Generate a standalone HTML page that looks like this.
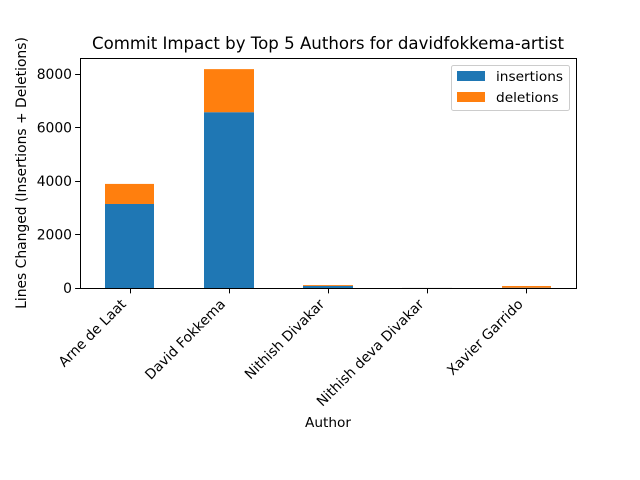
<!DOCTYPE html>
<html>
<head>
<meta charset="utf-8">
<style>
html,body{margin:0;padding:0;background:#fff;}
svg{display:block;}
text{font-family:"DejaVu Sans","Liberation Sans",sans-serif;fill:#000;}
</style>
</head>
<body>
<svg id="chart" width="640" height="480" viewBox="0 0 640 480" xmlns="http://www.w3.org/2000/svg">
  <rect x="0" y="0" width="640" height="480" fill="#fff"/>
  <g id="bars"></g>
  <g id="ticks"></g>
  <rect x="80.5" y="58.5" width="496" height="230" fill="none" stroke="#000" stroke-width="1"/>
  <text x="328" y="49" font-size="16.67" text-anchor="middle" textLength="472" lengthAdjust="spacingAndGlyphs">Commit Impact by Top 5 Authors for davidfokkema-artist</text>
  <text x="328" y="427" font-size="13.7" text-anchor="middle">Author</text>
  <text transform="translate(26 173) rotate(-90)" font-size="13.89" text-anchor="middle">Lines Changed (Insertions + Deletions)</text>
  <g>
    <rect x="451.5" y="65.5" width="118" height="45" rx="2" fill="#fff" fill-opacity="0.8" stroke="#ccc" stroke-width="1"/>
    <rect x="457" y="71" width="28" height="10" fill="#1f77b4"/>
    <text x="496" y="81" font-size="13.7">insertions</text>
    <rect x="457" y="92" width="28" height="10" fill="#ff7f0e"/>
    <text x="496" y="102" font-size="13.7">deletions</text>
  </g>
</svg>
<script>
const categories = ["Arne de Laat", "David Fokkema", "Nithish Divakar", "Nithish deva Divakar", "Xavier Garrido"];
const insertions = [3140, 6570, 80, 2, 10];
const deletions = [750, 1610, 32, 1, 65];
const yTickValues = [0, 2000, 4000, 6000, 8000];
const yMax = 8596;

const NS = 'http://www.w3.org/2000/svg';
const plotLeft = 80, plotRight = 576, plotTop = 58, plotBottom = 288;
const barsGroup = document.getElementById('bars');
const ticksGroup = document.getElementById('ticks');

function xScale(i) {
  return plotLeft + (plotRight - plotLeft) * (i + 0.5) / categories.length;
}
function yScale(v) {
  return plotBottom - (plotBottom - plotTop) * v / yMax;
}
function make(tag, attrs) {
  const el = document.createElementNS(NS, tag);
  for (const k in attrs) el.setAttribute(k, attrs[k]);
  return el;
}
const bandWidth = (plotRight - plotLeft) / categories.length;
const barWidth = bandWidth * 0.5;

categories.forEach(function (name, i) {
  const cx = xScale(i);
  const left = Math.round(cx - barWidth / 2);
  const right = Math.round(cx + barWidth / 2);
  const y1 = yScale(insertions[i]);
  const barA = make('rect', {x: left, y: y1, width: right - left, height: plotBottom - y1, fill: '#1f77b4'});
  
  
  barsGroup.appendChild(barA);
  const y2 = yScale(insertions[i] + deletions[i]);
  const barB = make('rect', {x: left, y: y2, width: right - left, height: y1 - y2, fill: '#ff7f0e'});
  
  
  barsGroup.appendChild(barB);

  const tx = Math.round(cx) + 0.5;
  const tick = make('line', {x1: tx, x2: tx, y1: plotBottom, y2: plotBottom + 5.4, stroke: '#000', 'stroke-width': 1});
  
  
  ticksGroup.appendChild(tick);
  const px = cx - 2.7, py = 305;
  const label = make('text', {transform: 'translate(' + px + ' ' + py + ') rotate(-45)', 'font-size': 13.89, 'text-anchor': 'end'});
  
  
  label.textContent = name;
  ticksGroup.appendChild(label);
});

yTickValues.forEach(function (v) {
  const y = yScale(v);
  const ty = Math.round(y) + 0.5;
  const tick = make('line', {x1: plotLeft - 4.9, x2: plotLeft, y1: ty, y2: ty, stroke: '#000', 'stroke-width': 1});
  
  
  ticksGroup.appendChild(tick);
  const label = make('text', {x: plotLeft - 8, y: y + 5, 'font-size': 13.89, 'text-anchor': 'end'});
  
  
  label.textContent = String(v);
  ticksGroup.appendChild(label);
});
</script>
</body>
</html>
